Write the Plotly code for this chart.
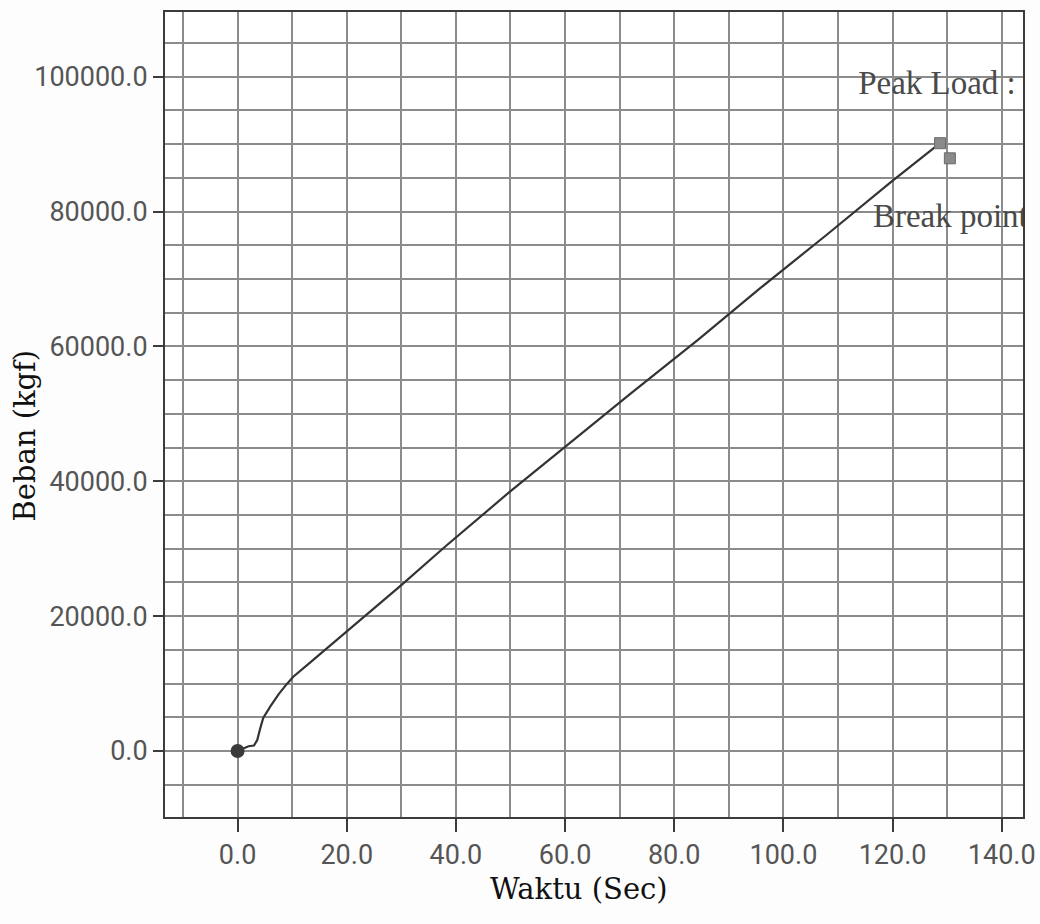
import plotly.graph_objects as go

# Load curve recorded during the test (time in seconds, load in kgf)
waktu = [0, 2.0, 3.0, 3.6, 4.2, 4.7, 6.0, 7.5, 9.0, 10.2, 13.0, 20.0, 30.0, 38.0, 49.9, 60.0, 72.0, 84.4, 95.7, 108.0, 119.8, 128.7]
beban = [0, 700, 800, 1600, 3500, 4900, 6600, 8400, 9900, 11000, 12900, 17690, 24600, 30290, 38450, 45110, 53000, 61000, 68600, 76600, 84450, 90140]

# Marked events
start_point = (0.0, 0.0)
peak_point = (128.7, 90140)
break_point = (130.5, 87900)

x_ticks = [0, 20, 40, 60, 80, 100, 120, 140]
y_ticks = [0, 20000, 40000, 60000, 80000, 100000]

grid_col = "#8c8c8c"
frame_col = "#3c3c3c"
tick_font = dict(family="Roboto, DejaVu Sans", size=27, color="#555555")
title_font = dict(family="DejaVu Serif, serif", size=29, color="#111111")
event_font = dict(family="Liberation Serif, DejaVu Serif, serif", size=33, color="#4a4a4a")

fig = go.Figure()

fig.add_trace(go.Scatter(
    x=waktu, y=beban, mode="lines",
    line=dict(color="#333333", width=2.2),
    showlegend=False, hoverinfo="skip",
))

fig.add_trace(go.Scatter(
    x=[start_point[0]], y=[start_point[1]], mode="markers",
    marker=dict(symbol="circle", size=14, color="#3a3a3a"),
    showlegend=False,
))

fig.add_trace(go.Scatter(
    x=[peak_point[0], break_point[0]], y=[peak_point[1], break_point[1]], mode="markers",
    marker=dict(symbol="square", size=11, color="#8a8a8a",
                line=dict(color="#6a6a6a", width=1)),
    showlegend=False,
))

# Event labels, clipped by the plotting area
fig.add_trace(go.Scatter(
    x=[113.7, 116.4], y=[98600, 78900],
    mode="text", text=["Peak Load :", "Break point"],
    textposition="middle right",
    textfont=event_font,
    cliponaxis=True, showlegend=False, hoverinfo="skip",
))

fig.update_xaxes(
    range=[-13.3, 143.9], automargin=False,
    tickmode="array", tickvals=x_ticks, tickformat=".1f",
    ticks="outside", ticklen=13, tickwidth=2, tickcolor=frame_col,
    tickfont=tick_font,
    showgrid=True, gridcolor=grid_col, gridwidth=1.5,
    minor=dict(dtick=10, tick0=0, showgrid=True, gridcolor=grid_col, gridwidth=1.5),
    showline=True, linecolor=frame_col, linewidth=2, mirror=True,
    zeroline=False,
)

fig.update_yaxes(
    range=[-9800, 109600], automargin=False,
    tickmode="array", tickvals=y_ticks, tickformat=".1f",
    ticks="outside", ticklen=10, tickwidth=2, tickcolor=frame_col,
    tickfont=tick_font,
    showgrid=True, gridcolor=grid_col, gridwidth=1.5,
    minor=dict(dtick=5000, tick0=0, showgrid=True, gridcolor=grid_col, gridwidth=1.5),
    showline=True, linecolor=frame_col, linewidth=2, mirror=True,
    zeroline=False,
)

# Axis titles
fig.add_annotation(
    text="Waktu (Sec)", xref="paper", yref="paper",
    x=0.482, y=-0.090, xanchor="center", yanchor="middle",
    showarrow=False, font=title_font,
)
fig.add_annotation(
    text="Beban (kgf)", xref="paper", yref="paper",
    x=-0.163, y=0.474, xanchor="center", yanchor="middle",
    textangle=-90, showarrow=False, font=title_font,
)

fig.update_layout(
    width=1040, height=924,
    margin=dict(l=165, r=17, t=12, b=107),
    paper_bgcolor="#fdfdfd", plot_bgcolor="#ffffff",
)

fig.write_html("out.html")
